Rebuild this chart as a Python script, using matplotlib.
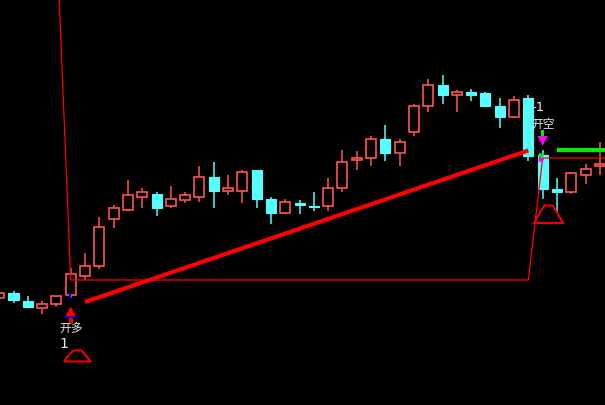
import matplotlib
matplotlib.use('Agg')
import matplotlib.pyplot as plt
import numpy as np
from matplotlib.patches import Rectangle, Polygon

# ---- candle data (price units) ----
opens  = [107, 111.7, 104.3, 97.3, 100.7, 109.7, 129.3, 139.3, 186.3, 195, 208.3, 211, 199.3, 205.3,
          208.3, 227.7, 214.3, 214.3, 235, 206, 192.3, 202, 199.3, 199.3, 217.3, 244.7, 247.3, 266,
          252.3, 272.7, 298.7, 320, 309.7, 313, 312, 299, 288.3, 307, 250, 216, 213.3, 230.3, 238.7]
highs  = [114, 114, 109, 104, 109, 137, 152, 188.3, 200, 225, 217.3, 212.7, 219, 213,
          239, 243, 230, 235, 235, 208, 206, 205, 213, 227, 255, 254, 269, 280,
          266, 301, 326, 330, 315, 316, 313, 307, 309, 310, 255, 227, 233, 241, 263]
lows   = [105, 101.7, 97.7, 90.7, 98.3, 107, 125, 136.3, 177.3, 194, 197.3, 189.3, 197.3, 202.3,
          203.3, 197.3, 210, 202.3, 197.3, 181.3, 191.3, 191.3, 194.3, 194.3, 213.3, 235, 239, 244.3,
          239.3, 269.3, 293.3, 301.3, 293.3, 304.3, 299.3, 277.3, 287.3, 244.3, 206.3, 192.3, 211.3, 221.3, 230]
closes = [112, 104.7, 97.7, 100.7, 108.7, 130.7, 139, 177.7, 196.7, 210, 213, 197.3, 205.7, 209.7,
          227.7, 214.3, 217, 232.7, 206, 192.3, 202.7, 200.3, 198.3, 217, 243, 247, 266, 252.3,
          263, 299, 320, 310.3, 313, 310.3, 299.3, 288.3, 305, 249.3, 216.3, 213.3, 232, 236, 241]

nan = np.nan
# thin red stop line (per candle)
stop_line = [nan] * 4 + [475] + [125] * 33 + [247] * 5
# thick red trend line
trend_idx = [6, 37]
trend_val = [103, 254.5]
# green level line
green_start = 39
green_level = 255.5

# signals
buy_idx, sell_idx = 5, 38
buy_label, sell_label = "开多", "开空"
buy_num, sell_num = "1", "-1"

# hat shapes
hat_left = [4.53, 37.42]
hat_base = [43.5, 182]
hat_h = [11, 17.5]
hat_w = [1.89, 2.0]
hat_fx = [0, .1, .23, .36, .64, .8, 1]
hat_fy = [0, .33, .7, 1, 1, .58, 0]

UP = '#FF5555'
DN = '#55FFFF'

fig = plt.figure(figsize=(6.05, 4.05), dpi=100, facecolor='black')
ax = fig.add_axes([0, 0, 1, 1])
ax.set_facecolor('black')
XMIN, XMAX = 0.056, 42.36
ax.set_xlim(XMIN, XMAX)
ax.set_ylim(0, 405)
ax.axis('off')

w = 0.7
for i, (o, h, l, c) in enumerate(zip(opens, highs, lows, closes)):
    top, bot = max(o, c), min(o, c)
    ht = max(top - bot, 0.9)
    if c >= o:
        ax.vlines(i, l, bot, color=UP, lw=1.1, zorder=2)
        ax.vlines(i, top, h, color=UP, lw=1.1, zorder=2)
        ax.add_patch(Rectangle((i - w / 2, bot), w, ht, facecolor='black',
                               edgecolor=UP, lw=1.2, zorder=3))
    else:
        ax.vlines(i, l, h, color=DN, lw=1.1, zorder=2)
        ax.add_patch(Rectangle((i - w / 2, bot), w, ht, facecolor=DN,
                               edgecolor=DN, lw=0.8, zorder=3))

# stop line
sx = list(range(len(stop_line))) + [XMAX]
sy = stop_line + [stop_line[-1]]
ax.plot(sx, sy, color='#FF0000', lw=0.9, zorder=4)

# trend line
ax.plot(trend_idx, trend_val, color='#FF0000', lw=3.0, solid_capstyle='butt', zorder=5)

# green line
ax.plot([green_start, XMAX], [green_level, green_level], color='#00EE00', lw=3.0,
        solid_capstyle='butt', zorder=5)

# buy arrow
lo = lows[buy_idx]
tip = lo - 8.7
base = tip - 10
ax.add_patch(Polygon([(buy_idx - 0.385, base), (buy_idx + 0.385, base), (buy_idx, tip)],
                     closed=True, facecolor='#FF0000', edgecolor='none', zorder=6))
ax.add_patch(Rectangle((buy_idx - 0.13, base - 6.5), 0.26, 6.5, facecolor='#FF0000',
                       edgecolor='none', zorder=6))
ax.plot([buy_idx - 0.385, buy_idx + 0.385], [base, base], color='#0000FF', lw=1.2, zorder=7)
ax.vlines(buy_idx - 0.05, 106.3, 111.7, color='#0000FF', lw=1.5, zorder=7)

# sell arrow
s_top = 269
ax.add_patch(Polygon([(sell_idx - 0.37, s_top), (sell_idx + 0.37, s_top), (sell_idx, s_top - 9.7)],
                     closed=True, facecolor='#FF00FF', edgecolor='none', zorder=6))
ax.add_patch(Rectangle((sell_idx - 0.115, s_top), 0.23, 6, facecolor='#00EE00',
                       edgecolor='none', zorder=6))
ax.plot([sell_idx - 0.1], [250], marker='>', color='#00EE00', ms=3, zorder=7)
ax.plot([sell_idx - 0.1], [246.5], marker='>', color='#FF00FF', ms=3, zorder=7)

# labels
cjk = ['Noto Sans CJK SC', 'DejaVu Sans']
ax.text(buy_idx, 76, buy_label, color='#E6E6E6', fontsize=8.5, family=cjk,
        ha='center', va='center', zorder=8)
ax.text(buy_idx - 0.45, 61, buy_num, color='#E6E6E6', fontsize=10, ha='center', va='center', zorder=8)
ax.text(sell_idx, 280.5, sell_label, color='#E6E6E6', fontsize=8.5, family=cjk,
        ha='center', va='center', zorder=8)
ax.text(sell_idx - 0.35, 297.5, sell_num, color='#E6E6E6', fontsize=9.5, ha='center', va='center', zorder=8)

# hats
for x0, b, hh, ww in zip(hat_left, hat_base, hat_h, hat_w):
    pts = [(x0 + fx * ww, b + fy * hh) for fx, fy in zip(hat_fx, hat_fy)]
    ax.add_patch(Polygon(pts, closed=True, facecolor='none', edgecolor='#EE0000', lw=1.5, zorder=6))

fig.savefig('out.png', dpi=100, facecolor='black')
